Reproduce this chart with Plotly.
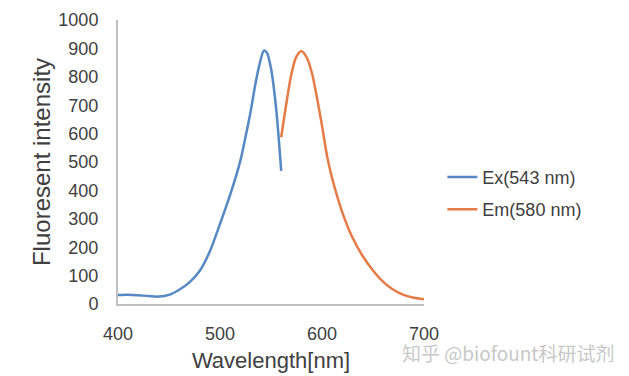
import plotly.graph_objects as go

# Excitation spectrum
ex_wavelength = [400, 410, 420, 430, 440, 450, 460, 470, 480, 490, 500, 510,
                 520, 525, 530, 535, 540, 543, 546, 550, 555, 560]
ex_intensity = [32, 33, 31, 28, 26, 32, 50, 76, 116, 185, 282, 385,
                505, 588, 677, 780, 862, 892, 885, 830, 690, 469]

# Emission spectrum
em_wavelength = [560, 565, 570, 575, 580, 585, 590, 595, 600, 605, 610, 620,
                 630, 640, 650, 660, 670, 680, 690, 700]
em_intensity = [587, 705, 810, 872, 890, 868, 815, 728, 628, 520, 442, 322,
                233, 168, 118, 78, 50, 32, 22, 17]

series_names = ["Ex(543 nm)", "Em(580 nm)"]
x_ticks = [400, 500, 600, 700]
y_ticks = [0, 100, 200, 300, 400, 500, 600, 700, 800, 900, 1000]

font_family = "Liberation Sans, Arial, sans-serif"
text_color = "#404040"

fig = go.Figure()
fig.add_trace(go.Scatter(x=ex_wavelength, y=ex_intensity, mode="lines",
                         name=series_names[0], legendgroup="a",
                         line=dict(color="#5688c3", width=2.5, shape="spline", smoothing=0.8)))
fig.add_trace(go.Scatter(x=em_wavelength, y=em_intensity, mode="lines",
                         name=series_names[1], legendgroup="b",
                         line=dict(color="#e57b46", width=2.5, shape="spline", smoothing=0.8)))

# page has an 8px body margin, so the figure is sized 8px smaller
fig.update_layout(
    width=621, height=368,
    margin=dict(l=110, r=205, t=12, b=72, autoexpand=False),
    paper_bgcolor="white", plot_bgcolor="white",
    font=dict(family=font_family, color=text_color, size=18),
    legend=dict(x=1.06, xanchor="left", y=0.39, yanchor="middle",
                font=dict(size=18, color=text_color), tracegroupgap=6,
                bgcolor="rgba(0,0,0,0)"),
    xaxis=dict(range=[400, 700], tickvals=x_ticks, showgrid=False, zeroline=False,
               showline=True, linecolor="#bfbfbf", linewidth=2,
               ticks="", ticklabelstandoff=12,
               tickfont=dict(size=18, color=text_color),
               title=dict(text="Wavelength[nm]", font=dict(size=22, color=text_color), standoff=10)),
    yaxis=dict(range=[0, 1000], tickvals=y_ticks, showgrid=False, zeroline=False,
               showline=True, linecolor="#bfbfbf", linewidth=2,
               ticks="", ticklabelstandoff=14,
               tickfont=dict(size=18, color=text_color),
               title=dict(text="Fluoresent intensity", font=dict(size=24, color=text_color), standoff=1)),
    annotations=[dict(text="知乎 @biofount科研试剂", xref="paper", yref="paper",
                      x=(508 - 118) / 306, y=(304 - 353) / 284, xanchor="center", yanchor="middle",
                      showarrow=False,
                      font=dict(family="Noto Sans CJK SC", size=19, color="#c8c8c8"))],
)

fig.write_html("out.html")
